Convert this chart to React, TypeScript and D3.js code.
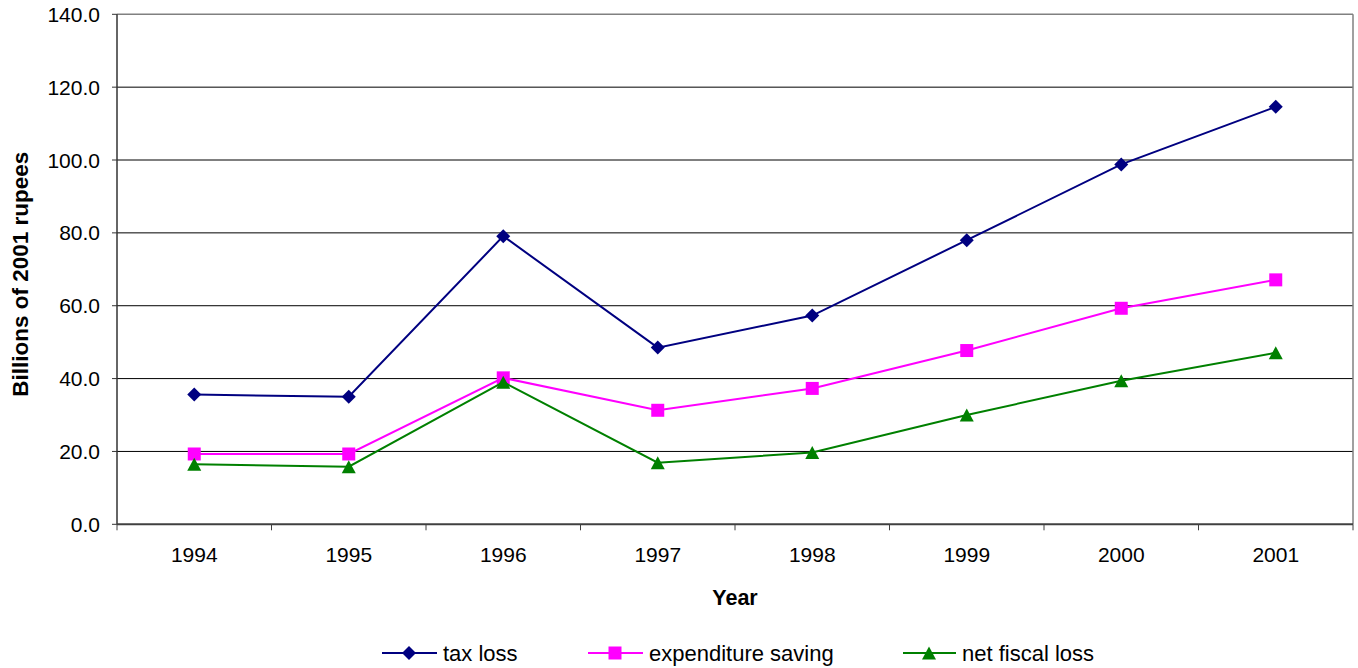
import React from "react";
import * as d3 from "d3";

const years = ["1994", "1995", "1996", "1997", "1998", "1999", "2000", "2001"];
const taxLoss = [35.6, 35.0, 79.1, 48.5, 57.3, 78.0, 98.8, 114.6];
const expenditureSaving = [19.3, 19.3, 40.2, 31.3, 37.3, 47.7, 59.3, 67.1];
const netFiscalLoss = [16.5, 15.8, 39.0, 16.9, 19.7, 30.0, 39.4, 47.1];
const yTicks = [0, 20, 40, 60, 80, 100, 120, 140];

const seriesNames = ["tax loss", "expenditure saving", "net fiscal loss"];
const seriesColors = ["#000080", "#FF00FF", "#008000"];
const seriesShapes = ["diamond", "square", "triangle"];

const W = 1358;
const H = 668;
const plot = { left: 117, right: 1353, top: 14.3, bottom: 524.3 };
const FONT = "'Liberation Sans', Arial, sans-serif";

function markerPath(shape: string): string {
  if (shape === "diamond") return "M0,-7L7,0L0,7L-7,0Z";
  if (shape === "square") return "M-6.5,-6.5H6.5V6.5H-6.5Z";
  return "M0,-6.5L7,6.5L-7,6.5Z";
}

export default function App() {
  const x = d3.scaleBand<string>().domain(years).range([plot.left, plot.right]).padding(0);
  const y = d3.scaleLinear().domain([0, 140]).range([plot.bottom, plot.top]);
  const cx = (yr: string) => (x(yr) as number) + x.bandwidth() / 2;

  const data = [taxLoss, expenditureSaving, netFiscalLoss];
  const line = d3
    .line<number>()
    .x((_, i) => cx(years[i]))
    .y((v) => y(v));

  const boundaries = years.map((yr) => x(yr) as number).concat([plot.right]);

  const legendItems = [
    { lineX0: 382, lineX1: 437, mx: 409, tx: 443 },
    { lineX0: 588, lineX1: 643, mx: 615, tx: 649 },
    { lineX0: 903, lineX1: 956, mx: 929, tx: 962 },
  ];
  const legendY = 653;

  return (
    <svg
      width={W}
      height={H}
      style={{ position: "absolute", left: 0, top: 0, background: "#fff" }}
      fontFamily={FONT}
    >
      <rect x={0} y={0} width={W} height={H} fill="#fff" />

      {/* horizontal gridlines */}
      {yTicks.filter((t) => t > 0 && t < 140).map((t) => (
        <line key={"g" + t} x1={plot.left} x2={plot.right} y1={y(t)} y2={y(t)} stroke="#000" strokeWidth={1} />
      ))}

      {/* plot border: top and right */}
      <line x1={plot.left} x2={plot.right} y1={plot.top} y2={plot.top} stroke="#808080" strokeWidth={1.5} />
      <line x1={plot.right} x2={plot.right} y1={plot.top} y2={plot.bottom} stroke="#808080" strokeWidth={1.5} />

      {/* y axis */}
      <line x1={plot.left} x2={plot.left} y1={plot.top} y2={plot.bottom} stroke="#333" strokeWidth={1.5} />
      {yTicks.map((t) => (
        <g key={"yt" + t}>
          <line x1={plot.left - 5} x2={plot.left} y1={y(t)} y2={y(t)} stroke="#333" strokeWidth={1} />
          <text x={100} y={y(t)} dy="0.36em" textAnchor="end" fontSize={21} fill="#000">
            {d3.format(".1f")(t)}
          </text>
        </g>
      ))}

      {/* x axis */}
      <line x1={plot.left} x2={plot.right} y1={plot.bottom} y2={plot.bottom} stroke="#404040" strokeWidth={2} />
      {boundaries.map((bx, i) => (
        <line key={"xt" + i} x1={bx} x2={bx} y1={plot.bottom} y2={plot.bottom + 6} stroke="#404040" strokeWidth={1} />
      ))}
      {years.map((yr) => (
        <text key={"xl" + yr} x={cx(yr)} y={562} textAnchor="middle" fontSize={21} fill="#000">
          {yr}
        </text>
      ))}

      {/* axis titles */}
      <text x={735} y={605} textAnchor="middle" fontSize={21.5} fontWeight="bold" fill="#000">
        Year
      </text>
      <text
        transform={`translate(28, ${(plot.top + plot.bottom) / 2 + 5}) rotate(-90)`}
        textAnchor="middle"
        fontSize={22.5}
        fontWeight="bold"
        fill="#000"
      >
        Billions of 2001 rupees
      </text>

      {/* series */}
      {data.map((vals, si) => (
        <g key={"s" + si}>
          <path d={line(vals) as string} fill="none" stroke={seriesColors[si]} strokeWidth={2} />
          {vals.map((v, i) => (
            <path
              key={i}
              d={markerPath(seriesShapes[si])}
              transform={`translate(${cx(years[i])},${y(v)})`}
              fill={seriesColors[si]}
            />
          ))}
        </g>
      ))}

      {/* legend */}
      {legendItems.map((it, si) => (
        <g key={"lg" + si}>
          <line x1={it.lineX0} x2={it.lineX1} y1={legendY} y2={legendY} stroke={seriesColors[si]} strokeWidth={2} />
          <path d={markerPath(seriesShapes[si])} transform={`translate(${it.mx},${legendY})`} fill={seriesColors[si]} />
          <text x={it.tx} y={legendY} dy="0.36em" fontSize={22} fill="#000">
            {seriesNames[si]}
          </text>
        </g>
      ))}
    </svg>
  );
}
